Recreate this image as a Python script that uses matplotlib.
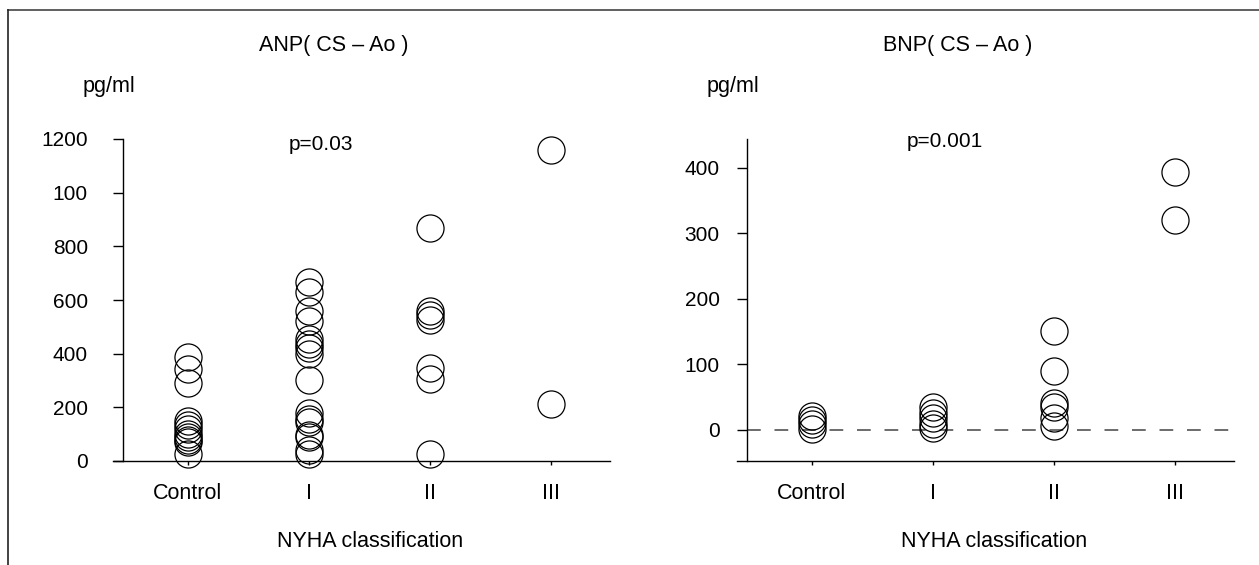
import matplotlib
matplotlib.use("Agg")
import matplotlib.pyplot as plt
from matplotlib.lines import Line2D

plt.rcParams['font.family'] = ['Liberation Sans', 'DejaVu Sans']

# NYHA groups
groups = ['Control', 'I', 'II', 'III']

# ANP (CS - Ao), pg/ml
anp_control = [388, 342, 290, 150, 135, 118, 100, 90, 80, 70, 25]
anp_I = [668, 629, 560, 520, 455, 435, 420, 400, 302, 178, 155, 145, 97, 88, 40, 26]
anp_II = [867, 560, 544, 525, 345, 306, 26]
anp_III = [1159, 212]
anp_ticks = [0, 200, 400, 600, 800, 1000, 1200]
anp_ticklabels = ['0', '200', '400', '600', '800', '100', '1200']

# BNP (CS - Ao), pg/ml
bnp_control = [21, 15, 8, 1]
bnp_I = [34, 25, 17, 9, 2]
bnp_II = [150, 89, 40, 34, 18, 5]
bnp_III = [394, 320]
bnp_ticks = [0, 100, 200, 300, 400]

W, H = 1259, 565
fig = plt.figure(figsize=(W / 100, H / 100), dpi=100)

# frame lines of the original figure
fig.add_artist(Line2D([8 / W, 1], [1 - 10 / H, 1 - 10 / H], color='#444444', lw=1.2))
fig.add_artist(Line2D([8 / W, 8 / W], [0, 1 - 10 / H], color='#222222', lw=1.2))

ax1 = fig.add_axes([123 / W, 1 - 461 / H, 487 / W, 322 / H])
ax2 = fig.add_axes([747 / W, 1 - 461 / H, 487 / W, 322 / H])


def style(ax, ypad):
    for s in ['top', 'right']:
        ax.spines[s].set_visible(False)
    ax.spines['bottom'].set_visible(False)
    ax.spines['left'].set_linewidth(1.0)
    # x axis line runs out to the end of the y ticks
    ax.add_line(Line2D([-10 / 487, 1], [0, 0], transform=ax.transAxes,
                       color='black', lw=1.0, clip_on=False))
    ax.set_xlim(-0.537, 3.488)
    ax.set_xticks(range(len(groups)))
    ax.set_xticklabels(groups, fontsize=15.5)
    ax.tick_params(axis='x', direction='out', length=3, width=1, pad=13)
    ax.tick_params(axis='y', direction='out', length=7.2, width=1, pad=ypad,
                   labelsize=15)


def dots(ax, data):
    for i, vals in enumerate(data):
        ax.plot([i] * len(vals), vals, 'o', ms=19.5, mfc='none', mec='black',
                mew=0.9, clip_on=False, zorder=3)


# left: ANP
style(ax1, 18)
ax1.set_ylim(0, 1200)
ax1.set_yticks(anp_ticks)
ax1.set_yticklabels(anp_ticklabels)
dots(ax1, [anp_control, anp_I, anp_II, anp_III])
ax1.text(1.1, 1180, 'p=0.03', fontsize=15, ha='center', va='center')

# right: BNP
style(ax2, 12.5)
ax2.set_ylim(-48, 444)
ax2.set_yticks(bnp_ticks)
ax2.axhline(0, color='#444444', lw=1.1, ls=(0, (9, 9)), zorder=1)
dots(ax2, [bnp_control, bnp_I, bnp_II, bnp_III])
ax2.text(1.1, 440, 'p=0.001', fontsize=15, ha='center', va='center')

# titles, units and axis names
for dx, title in [(0, 'ANP( CS – Ao )'), (624, 'BNP( CS – Ao )')]:
    fig.text((334 + dx) / W, 1 - 45 / H, title, fontsize=15.5, ha='center', va='center')
    fig.text((83 + dx) / W, 1 - 92 / H, 'pg/ml', fontsize=15.5, ha='left', va='baseline')
    fig.text((370 + dx) / W, 1 - 547 / H, 'NYHA classification', fontsize=15.5,
             ha='center', va='baseline')

fig.savefig('out.png', dpi=100)
